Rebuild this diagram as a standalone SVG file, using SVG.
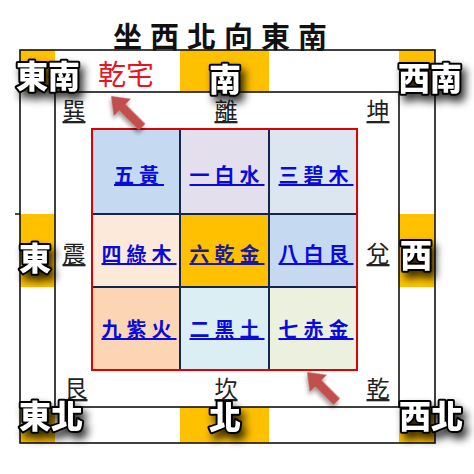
<svg xmlns="http://www.w3.org/2000/svg" width="474" height="474" viewBox="0 0 474 474">
<defs>
<filter id="sh" x="-50%" y="-50%" width="200%" height="200%">
<feGaussianBlur in="SourceAlpha" stdDeviation="4"/>
<feOffset dx="4" dy="6" result="b"/>
<feComponentTransfer><feFuncA type="linear" slope="0.8"/></feComponentTransfer>
<feMerge><feMergeNode/><feMergeNode in="SourceGraphic"/></feMerge>
</filter>
<filter id="ash" x="-50%" y="-50%" width="200%" height="200%">
<feGaussianBlur in="SourceAlpha" stdDeviation="2"/>
<feOffset dx="2" dy="3"/>
<feComponentTransfer><feFuncA type="linear" slope="0.4"/></feComponentTransfer>
<feMerge><feMergeNode/><feMergeNode in="SourceGraphic"/></feMerge>
</filter>
</defs>
<style>
text{font-family:"Noto Sans CJK TC","Noto Sans CJK SC",sans-serif;}
.ttl{font-size:29px;font-weight:bold;fill:#111;letter-spacing:8px;}
.dir{font-size:32px;font-weight:900;fill:#fff;stroke:#000;stroke-width:4px;paint-order:stroke;stroke-linejoin:round;text-anchor:middle;filter:url(#sh);}
.gua{font-size:23px;fill:#222;text-decoration:underline;text-anchor:middle;}
.star{font-size:20px;font-weight:bold;fill:#0a0adc;text-decoration:underline;text-anchor:middle;letter-spacing:5px;}
.org{fill:#ffc000;}
.frame{fill:none;stroke:#111;stroke-width:1.6;}
.div{stroke:#14264f;stroke-width:2;}
.arrow{fill:#c0504d;filter:url(#ash);}
</style>
<rect width="474" height="474" fill="#fff"/>
<text class="ttl" x="113" y="48">坐西北向東南</text>
<g id="orange-blocks">
<rect class="org" x="20" y="50" width="35" height="42"/>
<rect class="org" x="180" y="50" width="89" height="42"/>
<rect class="org" x="399" y="50" width="36" height="42"/>
<rect class="org" x="20" y="214" width="35" height="73"/>
<rect class="org" x="399" y="214" width="36" height="73"/>
<rect class="org" x="20" y="407" width="35" height="36"/>
<rect class="org" x="180" y="407" width="89" height="36"/>
<rect class="org" x="399" y="407" width="36" height="36"/>
</g>
<g id="frames">
<rect class="frame" x="20" y="50" width="415" height="393"/>
<rect class="frame" x="55" y="92" width="344" height="315"/>
<line x1="15" y1="214" x2="20" y2="214" stroke="#111" stroke-width="1.5"/>
</g>
<g id="grid">
<g id="c-wuhuang"><rect x="92" y="129" width="88" height="85" fill="#c5d9f1"/><text class="star" x="139" y="183">五黃</text></g>
<g id="c-yibai"><rect x="180" y="129" width="89" height="85" fill="#e4dfec"/><text class="star" x="227" y="183">一白水</text></g>
<g id="c-sanbi"><rect x="269" y="129" width="88" height="85" fill="#dce6f1"/><text class="star" x="316" y="183">三碧木</text></g>
<g id="c-silu"><rect x="92" y="214" width="88" height="73" fill="#fde9d9"/><text class="star" x="139" y="262">四綠木</text></g>
<g id="c-liuqian"><rect x="180" y="214" width="89" height="73" fill="#ffc000"/><text class="star" x="227" y="262" style="fill:#1a1a9a">六乾金</text></g>
<g id="c-babai"><rect x="269" y="214" width="88" height="73" fill="#c5d9f1"/><text class="star" x="316" y="262">八白艮</text></g>
<g id="c-jiuzi"><rect x="92" y="287" width="88" height="83" fill="#fcd5b4"/><text class="star" x="139" y="337">九紫火</text></g>
<g id="c-erhei"><rect x="180" y="287" width="89" height="83" fill="#daeef3"/><text class="star" x="227" y="337">二黑土</text></g>
<g id="c-qichi"><rect x="269" y="287" width="88" height="83" fill="#ebf1de"/><text class="star" x="316" y="337">七赤金</text></g>
<line class="div" x1="180" y1="129" x2="180" y2="370"/>
<line class="div" x1="269" y1="129" x2="269" y2="370"/>
<line class="div" x1="92" y1="214" x2="357" y2="214"/>
<line class="div" x1="92" y1="287" x2="357" y2="287"/>
<rect x="92" y="129" width="265" height="241" fill="none" stroke="#e00000" stroke-width="2"/>
</g>
<g id="trigrams">
<text class="gua" x="74" y="119">巽</text>
<text class="gua" x="226" y="119">離</text>
<text class="gua" x="378" y="119">坤</text>
<text class="gua" x="74" y="262">震</text>
<text class="gua" x="378" y="262">兌</text>
<text class="gua" x="76" y="397">艮</text>
<text class="gua" x="226" y="397">坎</text>
<text class="gua" x="378" y="397">乾</text>
</g>
<g id="directions">
<text class="dir" x="48" y="88">東南</text>
<text class="dir" x="225" y="91">南</text>
<text class="dir" x="430" y="90">西南</text>
<text class="dir" x="35" y="270">東</text>
<text class="dir" x="416" y="267">西</text>
<text class="dir" x="51" y="428">東北</text>
<text class="dir" x="225" y="429">北</text>
<text class="dir" x="431" y="428">西北</text>
</g>
<text x="126" y="85" style="font-size:28px;fill:#e8141e;text-anchor:middle">乾宅</text>
<g id="connectors">
<polygon class="arrow" transform="translate(111,96) rotate(45)" points="0,0 16,-12 16,-4.5 44,-4.5 44,4.5 16,4.5 16,12"/>
<polygon class="arrow" transform="translate(307,372) rotate(45)" points="0,0 16,-12 16,-4.5 42,-4.5 42,4.5 16,4.5 16,12"/>
</g>
</svg>
